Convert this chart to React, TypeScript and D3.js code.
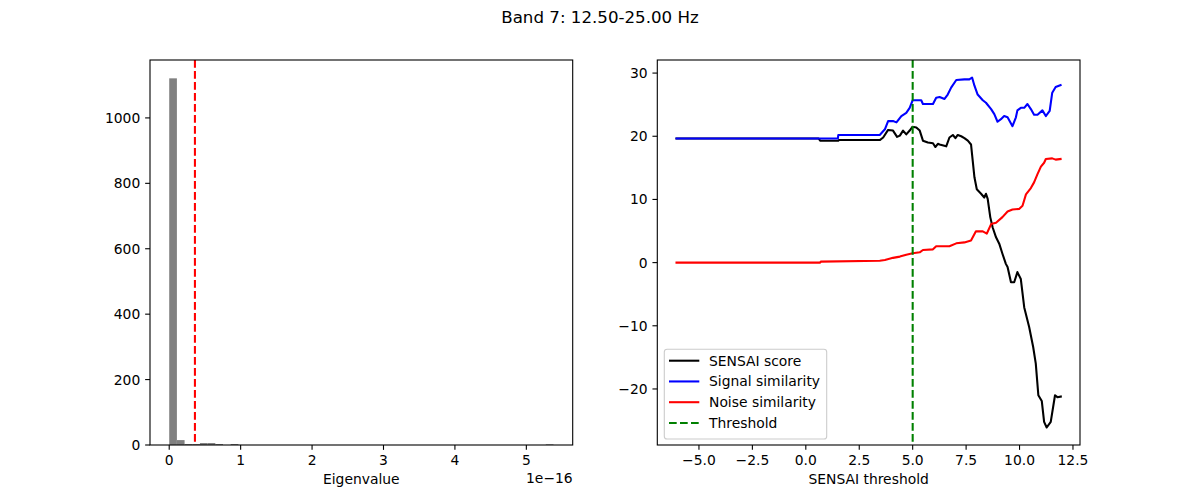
import React, { useEffect } from "react";
import * as d3 from "d3";

// Histogram of eigenvalues (units of 1e-16), 50 equal bins from min to max
const eigenMin = 0;
const eigenMax = 5.38;
const binCounts = [
  1121, 15, 3, 3, 6, 6, 3, 0, 3, 0,
  0, 0, 0, 0, 0, 0, 0, 0, 0, 0,
  0, 0, 0, 0, 0, 0, 0, 0, 0, 0,
  0, 0, 0, 0, 0, 0, 0, 0, 0, 0,
  0, 0, 0, 0, 0, 0, 0, 0, 0, 2,
];
const eigenThreshold = 0.36;
const histXTicks = [0, 1, 2, 3, 4, 5];
const histYTicks = [0, 200, 400, 600, 800, 1000];

// SENSAI curves: [threshold, value]
const sensaiScore: [number, number][] = [
  [-6.05, 19.64], [0.6, 19.64], [0.67, 19.3], [1.52, 19.3], [1.55, 19.4], [3.46, 19.4],
  [3.62, 19.8], [3.85, 21.0], [4.08, 20.9], [4.27, 19.9], [4.4, 20.1], [4.55, 20.9],
  [4.7, 20.3], [4.86, 20.9], [4.99, 21.5], [5.17, 21.4], [5.33, 20.9], [5.48, 19.3],
  [5.71, 19.0], [5.95, 18.9], [6.06, 18.3], [6.18, 18.8], [6.26, 18.7], [6.57, 18.4],
  [6.72, 19.8], [6.88, 20.2], [7.0, 19.7], [7.11, 20.2], [7.27, 20.0], [7.42, 19.7],
  [7.58, 19.3], [7.73, 18.7], [7.81, 16.1], [7.89, 13.5], [8.0, 11.6], [8.2, 10.9],
  [8.35, 10.3], [8.43, 10.9], [8.51, 10.1], [8.63, 7.2], [8.74, 5.6], [8.9, 4.0],
  [9.05, 3.0], [9.2, 1.4], [9.36, -0.2], [9.44, -0.7], [9.6, -3.1], [9.75, -3.1],
  [9.9, -1.5], [10.06, -2.6], [10.22, -7.1], [10.45, -10.2], [10.64, -13.4], [10.76, -16.0],
  [10.88, -21.0], [11.04, -21.9], [11.15, -25.2], [11.27, -26.1], [11.46, -25.2],
  [11.66, -21.0], [11.77, -21.3], [11.93, -21.2],
];
const signalSimilarity: [number, number][] = [
  [-6.05, 19.64], [1.5, 19.64], [1.52, 20.2], [3.46, 20.2], [3.7, 21.1], [3.85, 22.4],
  [4.08, 22.4], [4.24, 22.2], [4.47, 23.2], [4.7, 23.7], [4.86, 24.5], [5.0, 25.7],
  [5.4, 25.7], [5.48, 25.1], [5.95, 25.1], [6.1, 26.1], [6.26, 26.2], [6.49, 25.9],
  [6.64, 26.6], [6.8, 27.7], [7.04, 28.9], [7.42, 29.0], [7.65, 29.0], [7.78, 29.3],
  [7.89, 28.0], [8.04, 26.6], [8.28, 25.7], [8.43, 25.3], [8.67, 24.3], [8.82, 23.5],
  [8.97, 22.3], [9.13, 22.7], [9.28, 23.2], [9.44, 23.0], [9.67, 21.6], [9.83, 23.0],
  [9.9, 24.1], [10.06, 24.5], [10.22, 24.5], [10.37, 25.1], [10.53, 24.3], [10.68, 23.4],
  [10.84, 23.4], [11.07, 24.1], [11.23, 23.2], [11.41, 24.0], [11.53, 26.9], [11.69, 27.8],
  [11.92, 28.1],
];
const noiseSimilarity: [number, number][] = [
  [-6.05, 0], [0.67, 0], [0.7, 0.15], [3.46, 0.3], [3.7, 0.4], [4.08, 0.75], [4.4, 0.95],
  [4.7, 1.26], [5.0, 1.47], [5.33, 1.63], [5.48, 2.0], [5.95, 2.1], [6.1, 2.6], [6.72, 2.6],
  [7.04, 3.05], [7.42, 3.2], [7.73, 3.5], [7.96, 4.95], [8.28, 4.95], [8.47, 4.6],
  [8.67, 6.1], [8.9, 6.3], [9.2, 7.2], [9.44, 8.1], [9.67, 8.4], [9.98, 8.5], [10.14, 9.0],
  [10.3, 10.8], [10.53, 11.8], [10.68, 12.7], [10.84, 14.0], [11.0, 15.2], [11.15, 15.8],
  [11.23, 16.4], [11.53, 16.5], [11.69, 16.3], [11.92, 16.4],
];
const sensaiThreshold = 5.0;
const sensaiXTicks = [-5, -2.5, 0, 2.5, 5, 7.5, 10, 12.5];
const sensaiYTicks = [-20, -10, 0, 10, 20, 30];
const legendLabels = ["SENSAI score", "Signal similarity", "Noise similarity", "Threshold"];

const FONT = "DejaVu Sans, sans-serif";
const FS = 13.89;
const TICK = 4.86;
const PAD = 4.86;
const DASH = "7.7,3.3";
const LW = 2.08;

const top = 60;
const bottom = 445;
const ax1 = { left: 150, right: 572.7 };
const ax2 = { left: 657.3, right: 1080 };

const fmtMinus = (s: string) => s.replace("-", "\u2212");

function withMargin(lo: number, hi: number): [number, number] {
  const m = (hi - lo) * 0.05;
  return [lo - m, hi + m];
}

export default function App() {
  useEffect(() => {
    document.body.style.margin = "0";
  }, []);

  // Left panel scales
  const binWidth = (eigenMax - eigenMin) / binCounts.length;
  const hx = d3.scaleLinear().domain(withMargin(eigenMin, eigenMax)).range([ax1.left, ax1.right]);
  const hy = d3.scaleLinear().domain([0, (d3.max(binCounts) as number) * 1.05]).range([bottom, top]);

  // Right panel scales
  const all = [...sensaiScore, ...signalSimilarity, ...noiseSimilarity];
  const [xMin, xMax] = d3.extent(all, (d) => d[0]) as [number, number];
  const [yMin, yMax] = d3.extent(all, (d) => d[1]) as [number, number];
  const sx = d3.scaleLinear().domain(withMargin(xMin, xMax)).range([ax2.left, ax2.right]);
  const sy = d3.scaleLinear().domain(withMargin(yMin, yMax)).range([bottom, top]);
  const line = d3
    .line<[number, number]>()
    .x((d) => sx(d[0]))
    .y((d) => sy(d[1]));

  const series = [
    { data: sensaiScore, color: "#000000" },
    { data: signalSimilarity, color: "#0000ff" },
    { data: noiseSimilarity, color: "#ff0000" },
  ];

  const legendColors = ["#000000", "#0000ff", "#ff0000", "#008000"];
  const lgX = 664.3;
  const lgY = 349.3;

  return (
    <svg width={1200} height={500} style={{ display: "block", background: "#fff" }} fontFamily={FONT}>
      <defs>
        <clipPath id="clip1">
          <rect x={ax1.left} y={top} width={ax1.right - ax1.left} height={bottom - top} />
        </clipPath>
        <clipPath id="clip2">
          <rect x={ax2.left} y={top} width={ax2.right - ax2.left} height={bottom - top} />
        </clipPath>
      </defs>
      <rect width={1200} height={500} fill="#fff" />
      <text x={600} y={23} textAnchor="middle" fontSize={16.67}>
        Band 7: 12.50-25.00 Hz
      </text>

      {/* Eigenvalue histogram */}
      <g clipPath="url(#clip1)">
        {binCounts.map((c, i) =>
          c > 0 ? (
            <rect
              key={i}
              x={hx(eigenMin + i * binWidth)}
              width={hx(eigenMin + (i + 1) * binWidth) - hx(eigenMin + i * binWidth)}
              y={hy(c)}
              height={hy(0) - hy(c)}
              fill="#808080"
            />
          ) : null
        )}
        <line
          x1={hx(eigenThreshold)}
          x2={hx(eigenThreshold)}
          y1={top}
          y2={bottom}
          stroke="#ff0000"
          strokeWidth={LW}
          strokeDasharray={DASH}
        />
      </g>
      <rect x={ax1.left} y={top} width={ax1.right - ax1.left} height={bottom - top} fill="none" stroke="#000" strokeWidth={1.1} />
      {histXTicks.map((t) => (
        <g key={t}>
          <line x1={hx(t)} x2={hx(t)} y1={bottom} y2={bottom + TICK} stroke="#000" strokeWidth={1.1} />
          <text x={hx(t)} y={465} textAnchor="middle" fontSize={FS}>
            {t}
          </text>
        </g>
      ))}
      {histYTicks.map((t) => (
        <g key={t}>
          <line x1={ax1.left - TICK} x2={ax1.left} y1={hy(t)} y2={hy(t)} stroke="#000" strokeWidth={1.1} />
          <text x={ax1.left - TICK - PAD} y={hy(t) + 5} textAnchor="end" fontSize={FS}>
            {t}
          </text>
        </g>
      ))}
      <text x={ax1.right} y={483.3} textAnchor="end" fontSize={FS}>
        1e{"\u2212"}16
      </text>
      <text x={(ax1.left + ax1.right) / 2} y={484} textAnchor="middle" fontSize={FS}>
        Eigenvalue
      </text>

      {/* SENSAI curves */}
      <g clipPath="url(#clip2)">
        {series.map((s, i) => (
          <path key={i} d={line(s.data) ?? ""} fill="none" stroke={s.color} strokeWidth={LW} strokeLinejoin="round" strokeLinecap="square" />
        ))}
        <line
          x1={sx(sensaiThreshold)}
          x2={sx(sensaiThreshold)}
          y1={top}
          y2={bottom}
          stroke="#008000"
          strokeWidth={LW}
          strokeDasharray={DASH}
        />
      </g>
      <rect x={ax2.left} y={top} width={ax2.right - ax2.left} height={bottom - top} fill="none" stroke="#000" strokeWidth={1.1} />
      {sensaiXTicks.map((t) => (
        <g key={t}>
          <line x1={sx(t)} x2={sx(t)} y1={bottom} y2={bottom + TICK} stroke="#000" strokeWidth={1.1} />
          <text x={sx(t)} y={465} textAnchor="middle" fontSize={FS}>
            {fmtMinus(d3.format(".1f")(t))}
          </text>
        </g>
      ))}
      {sensaiYTicks.map((t) => (
        <g key={t}>
          <line x1={ax2.left - TICK} x2={ax2.left} y1={sy(t)} y2={sy(t)} stroke="#000" strokeWidth={1.1} />
          <text x={ax2.left - TICK - PAD} y={sy(t) + 5} textAnchor="end" fontSize={FS}>
            {fmtMinus(String(t))}
          </text>
        </g>
      ))}
      <text x={(ax2.left + ax2.right) / 2} y={484} textAnchor="middle" fontSize={FS}>
        SENSAI threshold
      </text>

      {/* Legend */}
      <rect x={lgX} y={lgY} width={162.4} height={89.7} rx={2.8} fill="#fff" fillOpacity={0.8} stroke="#cccccc" strokeWidth={1.1} />
      {legendLabels.map((lab, i) => {
        const cy = 360.7 + i * 20.75;
        return (
          <g key={lab}>
            <line
              x1={669}
              x2={699.3}
              y1={cy}
              y2={cy}
              stroke={legendColors[i]}
              strokeWidth={LW}
              strokeDasharray={i === 3 ? DASH : undefined}
            />
            <text x={709} y={cy + 5} fontSize={FS}>
              {lab}
            </text>
          </g>
        );
      })}
    </svg>
  );
}
